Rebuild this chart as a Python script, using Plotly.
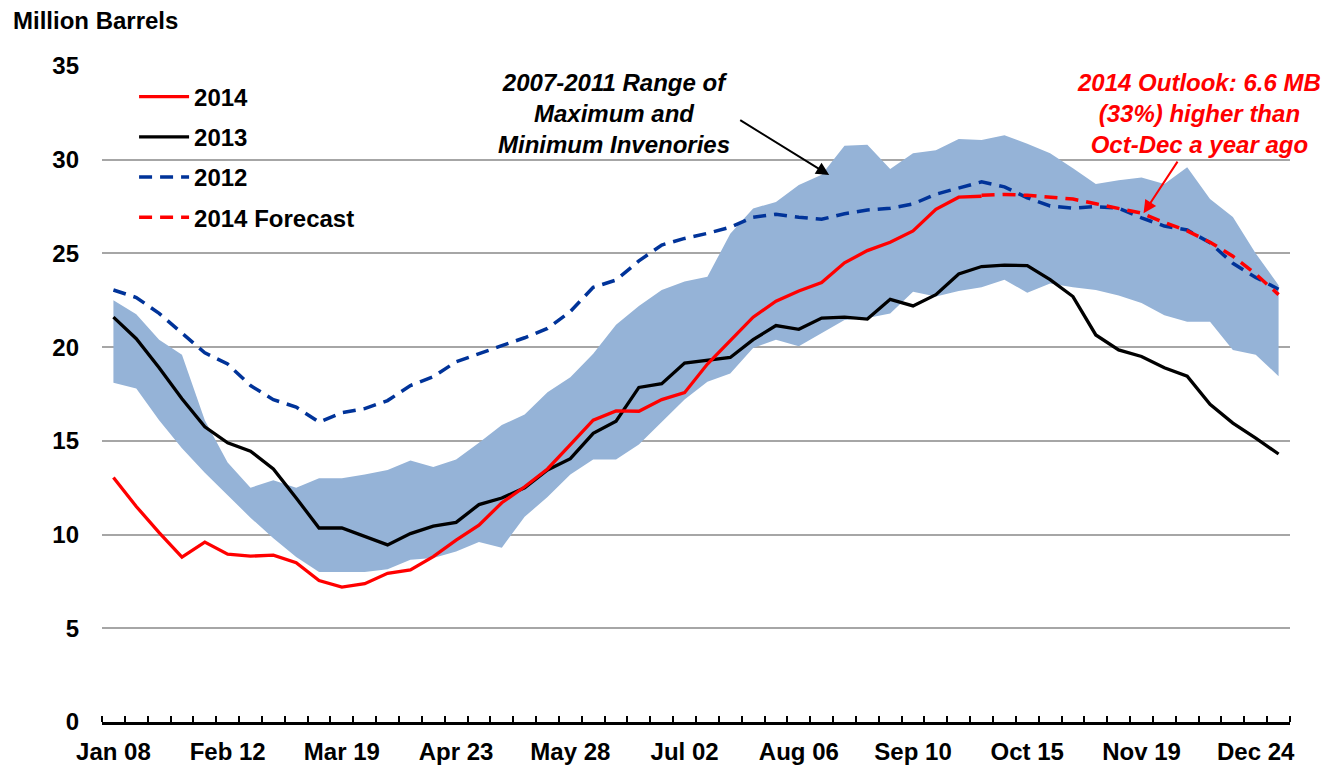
import plotly.graph_objects as go

# week index (Jan 08 ... Dec 31), weekly
weeks = list(range(52))
tick_pos = [0, 5, 10, 15, 20, 25, 30, 35, 40, 45, 50]
tick_text = ["Jan 08", "Feb 12", "Mar 19", "Apr 23", "May 28", "Jul 02",
             "Aug 06", "Sep 10", "Oct 15", "Nov 19", "Dec 24"]

# 2007-2011 range
range_max = [22.5, 21.75, 20.4, 19.6, 16.1, 13.85, 12.5, 12.9, 12.5, 13.0,
             13.0, 13.2, 13.45, 13.95, 13.6, 14.0, 14.9, 15.85, 16.4, 17.6,
             18.4, 19.65, 21.2, 22.2, 23.05, 23.5, 23.75, 26.05, 27.4, 27.75,
             28.65, 29.2, 30.75, 30.8, 29.5, 30.35, 30.5, 31.1, 31.05, 31.3,
             30.85, 30.35, 29.55, 28.7, 28.9, 29.05, 28.7, 29.6, 27.9, 26.95,
             25.0, 23.3]
range_min = [18.1, 17.8, 16.1, 14.6, 13.3, 12.1, 10.9, 9.8, 8.8, 8.0,
             8.0, 8.0, 8.15, 8.65, 8.75, 9.1, 9.6, 9.3, 10.95, 12.0,
             13.2, 14.0, 14.0, 14.8, 16.0, 17.2, 18.15, 18.6, 19.95, 20.4,
             20.05, 20.75, 21.45, 21.55, 21.8, 22.95, 22.7, 23.0, 23.2, 23.6,
             22.9, 23.4, 23.2, 23.05, 22.75, 22.35, 21.7, 21.35, 21.35, 19.85,
             19.6, 18.45]

y2012 = [23.05, 22.65, 21.8, 20.75, 19.7, 19.1, 17.95, 17.2, 16.8, 16.0,
         16.5, 16.72, 17.15, 17.95, 18.42, 19.22, 19.63, 20.08, 20.5, 21.0,
         21.9, 23.19, 23.58, 24.6, 25.45, 25.8, 26.07, 26.4, 26.93, 27.09,
         26.93, 26.82, 27.12, 27.32, 27.41, 27.64, 28.16, 28.5, 28.82, 28.55,
         27.97, 27.53, 27.41, 27.5, 27.41, 26.9, 26.46, 26.25, 25.57, 24.47,
         23.72, 23.09]

y2013 = [21.6, 20.45, 18.9, 17.25, 15.75, 14.9, 14.45, 13.5, 11.95, 10.35,
         10.35, 9.9, 9.45, 10.05, 10.45, 10.65, 11.6, 11.95, 12.5, 13.45,
         14.05, 15.4, 16.05, 17.85, 18.05, 19.15, 19.3, 19.45, 20.4, 21.15,
         20.95, 21.55, 21.6, 21.5, 22.55, 22.2, 22.8, 23.9, 24.3, 24.38,
         24.35, 23.6, 22.7, 20.65, 19.85, 19.5, 18.9, 18.45, 16.95, 15.95,
         15.15, 14.3]

y2014 = [13.05, 11.5, 10.1, 8.8, 9.6, 8.95, 8.85, 8.9, 8.5, 7.55,
         7.2, 7.38, 7.93, 8.11, 8.82, 9.7, 10.5, 11.7, 12.55, 13.5,
         14.8, 16.1, 16.6, 16.58, 17.2, 17.57, 19.1, 20.35, 21.6, 22.45,
         23.0, 23.45, 24.5, 25.15, 25.6, 26.2, 27.35, 28.0, 28.05] + [None] * 13

forecast_2014 = [None] * 38 + [28.1, 28.15, 28.1, 28.0, 27.9, 27.65, 27.4,
                               27.15, 26.65, 26.2, 25.6, 24.85, 23.9, 22.8]

FONT = "Liberation Sans, Arial, sans-serif"
BAND = "#95B3D7"
NAVY = "#003399"
RED = "#FF0000"

fig = go.Figure()

# band: max line first, min filled to it
fig.add_trace(go.Scatter(x=weeks, y=range_max, mode="lines",
                         line=dict(width=0, color=BAND), showlegend=False,
                         hoverinfo="skip"))
fig.add_trace(go.Scatter(x=weeks, y=range_min, mode="lines", fill="tonexty",
                         fillcolor=BAND, line=dict(width=0, color=BAND),
                         showlegend=False, hoverinfo="skip"))

fig.add_trace(go.Scatter(x=weeks, y=y2012, mode="lines", name="2012",
                         legendgroup="c", legendrank=3,
                         line=dict(color=NAVY, width=3.5, dash="13px,8px")))
fig.add_trace(go.Scatter(x=weeks, y=y2013, mode="lines", name="2013",
                         legendgroup="b", legendrank=2,
                         line=dict(color="black", width=3.3)))
fig.add_trace(go.Scatter(x=weeks, y=y2014, mode="lines", name="2014",
                         legendgroup="a", legendrank=1,
                         line=dict(color=RED, width=3.3)))
fig.add_trace(go.Scatter(x=weeks, y=forecast_2014, mode="lines",
                         name="2014 Forecast", legendgroup="d", legendrank=4,
                         line=dict(color=RED, width=3.5, dash="13px,8px")))

# the page body adds an 8px margin, so the figure is 8px smaller
fig.update_layout(
    width=1324,
    height=759,
    margin=dict(l=94, r=42, t=58, b=45, autoexpand=False),
    paper_bgcolor="white",
    plot_bgcolor="white",
    font=dict(family=FONT, size=24, color="black", weight="bold"),
    legend=dict(
        x=0.027, y=0.987, xanchor="left", yanchor="top",
        bgcolor="rgba(0,0,0,0)", borderwidth=0,
        font=dict(size=24, weight="bold"),
        itemwidth=50,
        tracegroupgap=6, traceorder="grouped",
    ),
    showlegend=True,
)

fig.update_xaxes(
    range=[-0.5, 51.5],
    tickmode="array", tickvals=tick_pos, ticktext=tick_text,
    ticks="", showgrid=False, zeroline=False, automargin=False,
    showline=True, linecolor="black", linewidth=2.5,
    tickfont=dict(size=24, weight="bold"),
    ticklabelstandoff=6,
    minor=dict(ticks="inside", tickmode="linear", tick0=-0.5, dtick=1,
               ticklen=6, tickwidth=1.5, tickcolor="black", showgrid=False),
)
fig.update_yaxes(
    range=[0, 35], dtick=5, ticks="", automargin=False,
    showgrid=True, gridcolor="#A6A6A6", gridwidth=1.5,
    zeroline=False, showline=False,
    tickfont=dict(size=24, weight="bold"),
    ticklabelstandoff=22,
)

# axis title
fig.add_annotation(xref="paper", yref="paper", x=-0.077, y=1.07,
                   xanchor="left", yanchor="middle", showarrow=False,
                   text="Million Barrels",
                   font=dict(size=24, weight="bold", color="black"))

# range annotation + arrow
fig.add_annotation(x=21.9, y=32.45, xref="x", yref="y", showarrow=False,
                   text="2007-2011 Range of<br>Maximum and<br>Minimum Invenories",
                   font=dict(size=24, weight="bold", style="italic", color="black"),
                   align="center", xanchor="center", yanchor="middle")
fig.add_annotation(x=31.33, y=29.18, ax=27.37, ay=32.16, xref="x", yref="y",
                   axref="x", ayref="y", text="", showarrow=True,
                   arrowhead=2, arrowsize=1.3, arrowwidth=2, arrowcolor="black")

# outlook annotation + arrow
fig.add_annotation(x=47.5, y=32.45, xref="x", yref="y", showarrow=False,
                   text="2014 Outlook: 6.6 MB<br>(33%) higher than<br>Oct-Dec a year ago",
                   font=dict(size=24, weight="bold", style="italic", color=RED),
                   align="center", xanchor="center", yanchor="middle")
fig.add_annotation(x=45.09, y=27.14, ax=46.62, ay=29.98, xref="x", yref="y",
                   axref="x", ayref="y", text="", showarrow=True,
                   arrowhead=2, arrowsize=1.3, arrowwidth=2, arrowcolor=RED)

fig.write_html("out.html")
